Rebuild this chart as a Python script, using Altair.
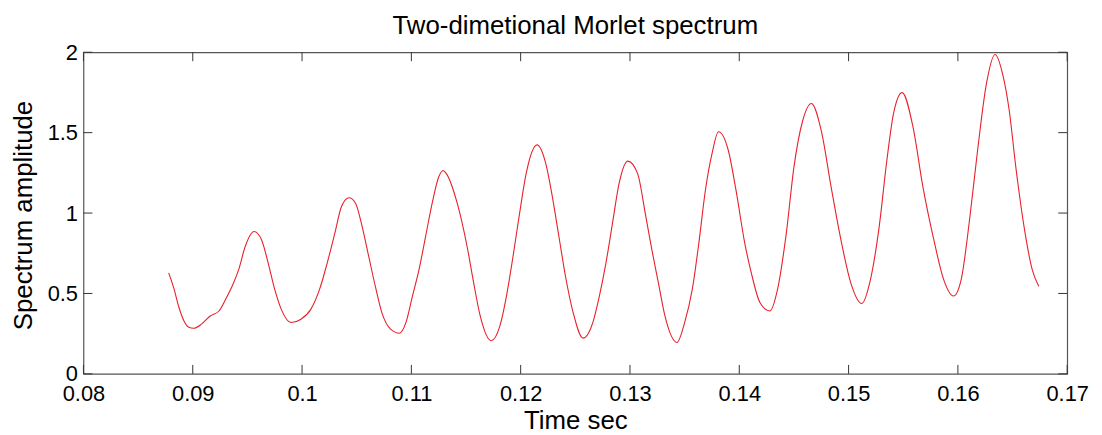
import altair as alt
import pandas as pd

time = [0.0878, 0.0883, 0.0887, 0.0892, 0.0896, 0.0901, 0.0908, 0.0916, 0.0924, 0.0930,
        0.0936, 0.0942, 0.0948, 0.0956, 0.0963, 0.0969, 0.0975, 0.0981, 0.0990, 0.0999,
        0.1008, 0.1016, 0.1023, 0.1030, 0.1036, 0.1043, 0.1049, 0.1055, 0.1061, 0.1067,
        0.1073, 0.1081, 0.1089, 0.1095, 0.1101, 0.1107, 0.1113, 0.1119, 0.1125, 0.1129,
        0.1132, 0.1142, 0.1151, 0.1157, 0.1163, 0.1173, 0.1181, 0.1187, 0.1193, 0.1199,
        0.1205, 0.1215, 0.1223, 0.1229, 0.1235, 0.1241, 0.1248, 0.1257, 0.1266, 0.1272,
        0.1278, 0.1284, 0.1290, 0.1298, 0.1307, 0.1314, 0.1320, 0.1326, 0.1332, 0.1343,
        0.1350, 0.1357, 0.1363, 0.1369, 0.1375, 0.1381, 0.1390, 0.1397, 0.1405, 0.1411,
        0.1419, 0.1428, 0.1435, 0.1443, 0.1450, 0.1458, 0.1466, 0.1475, 0.1484, 0.1493,
        0.1502, 0.1512, 0.1520, 0.1528, 0.1535, 0.1541, 0.1549, 0.1559, 0.1568, 0.1578,
        0.1587, 0.1596, 0.1603, 0.1611, 0.1618, 0.1626, 0.1634, 0.1641, 0.1647, 0.1653,
        0.1661, 0.1668, 0.1674]

amplitude = [0.628, 0.525, 0.422, 0.329, 0.292, 0.284, 0.309, 0.360, 0.391, 0.463,
             0.545, 0.648, 0.792, 0.885, 0.833, 0.689, 0.525, 0.401, 0.319, 0.340,
             0.401, 0.525, 0.689, 0.875, 1.039, 1.095, 1.060, 0.916, 0.730, 0.545,
             0.381, 0.278, 0.253, 0.319, 0.484, 0.648, 0.854, 1.060, 1.224, 1.265,
             1.245, 1.060, 0.792, 0.566, 0.360, 0.206, 0.298, 0.484, 0.730, 0.998,
             1.245, 1.424, 1.307, 1.101, 0.854, 0.607, 0.381, 0.222, 0.319, 0.484,
             0.689, 0.936, 1.183, 1.323, 1.245, 0.998, 0.772, 0.566, 0.360, 0.195,
             0.319, 0.525, 0.813, 1.142, 1.368, 1.506, 1.389, 1.142, 0.813, 0.628,
             0.442, 0.391, 0.525, 0.874, 1.286, 1.574, 1.681, 1.512, 1.163, 0.833,
             0.566, 0.438, 0.586, 0.916, 1.327, 1.615, 1.749, 1.533, 1.163, 0.833,
             0.586, 0.484, 0.586, 0.977, 1.389, 1.800, 1.986, 1.862, 1.636, 1.286,
             0.895, 0.648, 0.545]

x_ticks = [0.08, 0.09, 0.10, 0.11, 0.12, 0.13, 0.14, 0.15, 0.16, 0.17]
y_ticks = [0, 0.5, 1, 1.5, 2]

W, H = 991, 324
FONT = "Liberation Sans"
TICK = 9

df = pd.DataFrame({"t": time, "a": amplitude})
xt = pd.DataFrame({"t": x_ticks})
yt = pd.DataFrame({"a": y_ticks})

xs = alt.Scale(domain=[0.08, 0.17], nice=False, zero=False)
ys = alt.Scale(domain=[0, 2], nice=False, zero=False)

x_axis = alt.Axis(
    values=x_ticks, format="~g", title="Time sec", grid=False, ticks=False,
    domain=False, labelFlush=False, labelOverlap=False, labelPadding=10,
    labelFontSize=22, labelFont=FONT, labelColor="#000",
    titleFontSize=26, titleFont=FONT, titleFontWeight="normal", titleColor="#000",
    titleY=55, titleBaseline="alphabetic")
y_axis = alt.Axis(
    values=y_ticks, format="~g", title="Spectrum amplitude", grid=False, ticks=False,
    domain=False, labelFlush=False, labelOverlap=False, labelPadding=6,
    labelFontSize=22, labelFont=FONT, labelColor="#000",
    titleFontSize=26, titleFont=FONT, titleFontWeight="normal", titleColor="#000",
    titleAngle=270, titleX=-52, titleY=H / 2 + 2, titleBaseline="alphabetic",
    titleAlign="center")

X = alt.X("t:Q", scale=xs, axis=x_axis)
Y = alt.Y("a:Q", scale=ys, axis=y_axis)

line = alt.Chart(df).mark_line(color="#e8202a", strokeWidth=1.1,
                               interpolate="monotone").encode(x=X, y=Y)

tick_color = "#333333"
bottom_ticks = alt.Chart(xt).mark_rule(color=tick_color, strokeWidth=1).encode(
    x=X, y=alt.value(H), y2=alt.value(H - TICK))
top_ticks = alt.Chart(xt).mark_rule(color=tick_color, strokeWidth=1).encode(
    x=X, y=alt.value(0), y2=alt.value(TICK))
left_ticks = alt.Chart(yt).mark_rule(color=tick_color, strokeWidth=1).encode(
    y=Y, x=alt.value(0), x2=alt.value(TICK))
right_ticks = alt.Chart(yt).mark_rule(color=tick_color, strokeWidth=1).encode(
    y=Y, x=alt.value(W - TICK), x2=alt.value(W))

chart = alt.layer(line, bottom_ticks, top_ticks, left_ticks, right_ticks).properties(
    width=W, height=H,
    title=alt.TitleParams("Two-dimetional Morlet spectrum", fontSize=26, font=FONT,
                          fontWeight="normal", color="#000", anchor="middle", offset=2),
    autosize=alt.AutoSizeParams(type="none"),
    padding={"left": 76, "top": 43, "right": 27, "bottom": 58},
    background="white",
).configure_view(stroke="#555555", strokeWidth=1.2)

chart.save("out.html", embed_options={"renderer": "svg", "actions": False})
